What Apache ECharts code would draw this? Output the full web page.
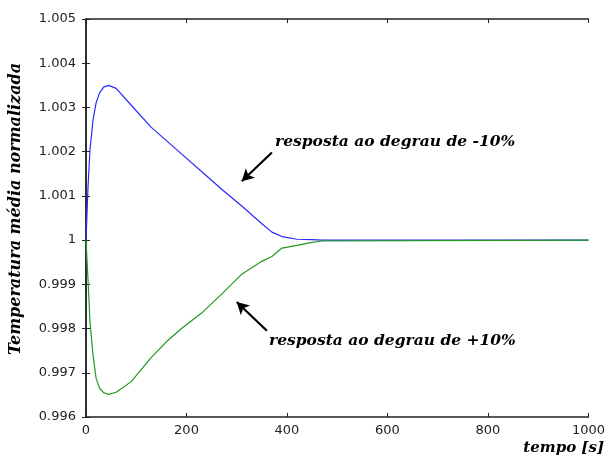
<!DOCTYPE html>
<html>
<head>
<meta charset="utf-8">
<title>Temperatura média normalizada</title>
<script src="https://cdn.jsdelivr.net/npm/echarts@6/dist/echarts.min.js"></script>
<style>
  html, body { margin: 0; padding: 0; background: #fff; }
  #chart { width: 608px; height: 459px; }
</style>
</head>
<body>
<div id="chart"></div>
<script>
// tempo [s]
const tempo = [0, 4, 8, 14, 20, 27, 35, 45, 60, 90, 130, 160, 190, 230, 270, 310, 350, 370, 390, 420, 450, 470, 1000]
// resposta ao degrau de -10% (azul)
const respostaMenos = [1.0000, 1.0012, 1.00205, 1.00272, 1.0031, 1.00333, 1.00346, 1.0035, 1.00343, 1.00305, 1.00255, 1.00225,
  1.00195, 1.00155, 1.00115, 1.00077, 1.00037, 1.00018, 1.00008, 1.00002, 1.00001, 1.0000, 1.0000]
// resposta ao degrau de +10% (verde)
const respostaMais = [1.0000, 0.9991, 0.99815, 0.9974, 0.99688, 0.99665, 0.99655, 0.99651, 0.99656, 0.9968, 0.99735, 0.9977,
  0.998, 0.99835, 0.99878, 0.99923, 0.99952, 0.99963, 0.99982, 0.99988, 0.99995, 0.99998, 1.0000]

const xTicks = { min: 0, max: 1000, interval: 200 }
const yTicks = { min: 0.996, max: 1.005, interval: 0.001 }

const serifBold = '"DejaVu Serif", "Liberation Serif", serif'
const axisColor = '#222'

const chart = echarts.init(document.getElementById('chart'))

function pairs (xs, ys) {
  return xs.map((x, i) => [x, ys[i]])
}

function fmtY (v) {
  return parseFloat(v.toFixed(3)).toString()
}

const boxAxis = {
  axisLine: { show: true, lineStyle: { color: axisColor, width: 1.5 } },
  axisTick: { show: true, inside: true, length: 4, lineStyle: { color: axisColor } },
  splitLine: { show: false }
}

chart.setOption({
  animation: false,
  grid: { left: 83, right: 19, top: 19, bottom: 42 },
  xAxis: [{
    type: 'value',
    min: xTicks.min,
    max: xTicks.max,
    interval: xTicks.interval,
    ...boxAxis,
    axisLabel: { color: '#222', fontSize: 13, fontFamily: '"DejaVu Sans", sans-serif', margin: 7, formatter: v => String(v) }
  }, {
    type: 'value',
    position: 'top',
    min: xTicks.min,
    max: xTicks.max,
    interval: xTicks.interval,
    ...boxAxis,
    axisLabel: { show: false }
  }],
  yAxis: [{
    type: 'value',
    min: yTicks.min,
    max: yTicks.max,
    interval: yTicks.interval,
    ...boxAxis,
    name: 'Temperatura média normalizada',
    nameLocation: 'middle',
    nameGap: 62,
    nameTextStyle: { fontFamily: serifBold, fontStyle: 'italic', fontWeight: 'bold', fontSize: 16, color: '#000', padding: [0, 0, 0, 18] },
    axisLabel: { color: '#222', fontSize: 13, fontFamily: '"DejaVu Sans", sans-serif', margin: 10, formatter: fmtY }
  }, {
    type: 'value',
    position: 'right',
    min: yTicks.min,
    max: yTicks.max,
    interval: yTicks.interval,
    ...boxAxis,
    axisLabel: { show: false }
  }],
  series: [{
    name: 'resposta ao degrau de -10%',
    type: 'line',
    showSymbol: false,
    lineStyle: { color: '#2a2aff', width: 1.2 },
    data: pairs(tempo, respostaMenos),
    markLine: {
      silent: true,
      symbol: ['none', 'arrow'],
      symbolSize: [10, 12],
      label: { show: false },
      lineStyle: { color: '#000', width: 2.2, type: 'solid' },
      data: [[{ coord: [370, 1.00198] }, { coord: [310, 1.00133] }]]
    }
  }, {
    name: 'resposta ao degrau de +10%',
    type: 'line',
    showSymbol: false,
    lineStyle: { color: '#1f9a1f', width: 1.2 },
    data: pairs(tempo, respostaMais),
    markLine: {
      silent: true,
      symbol: ['none', 'arrow'],
      symbolSize: [10, 12],
      label: { show: false },
      lineStyle: { color: '#000', width: 2.2, type: 'solid' },
      data: [[{ coord: [360, 0.99795] }, { coord: [300, 0.9986] }]]
    }
  }],
  graphic: [{
    type: 'text',
    left: 275,
    top: 134,
    style: { text: 'resposta ao degrau de -10%', font: 'italic bold 15.5px ' + serifBold, fill: '#000' }
  }, {
    type: 'text',
    left: 269,
    top: 333,
    style: { text: 'resposta ao degrau de +10%', font: 'italic bold 15.5px ' + serifBold, fill: '#000' }
  }, {
    type: 'text',
    right: 4,
    top: 441,
    style: { text: 'tempo [s]', font: 'italic bold 15px ' + serifBold, fill: '#000' }
  }]
})
</script>
</body>
</html>
